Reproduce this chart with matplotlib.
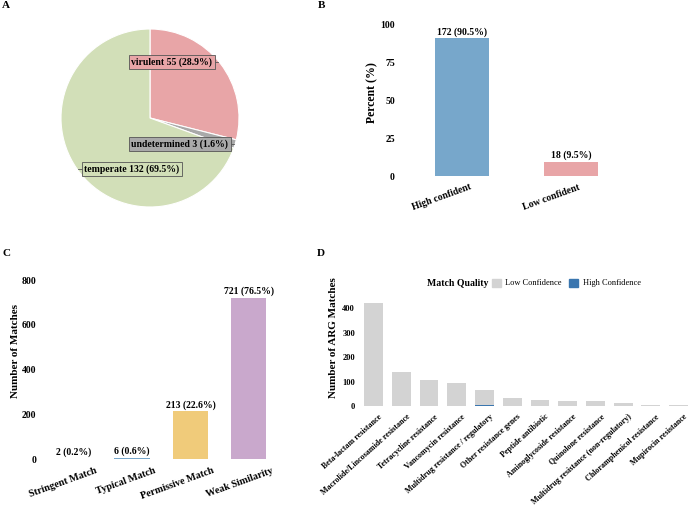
import numpy as np
import matplotlib
matplotlib.use("Agg")
import matplotlib.pyplot as plt
from matplotlib.patches import Patch
from matplotlib.transforms import ScaledTranslation

plt.rcParams['font.family'] = ['Liberation Serif', 'DejaVu Serif']
plt.rcParams['font.weight'] = 'bold'

# panel A - lifestyle
life_names = ['virulent', 'undetermined', 'temperate']
life_counts = [55, 3, 132]
life_colors = ['#E8A5A7', '#A9A9A9', '#D2DFB8']

# panel B - confidence
conf_names = ['High confident', 'Low confident']
conf_counts = [172, 18]
conf_colors = ['#77A7CB', '#E8A5A7']

# panel C - match quality
match_names = ['Stringent Match', 'Typical Match', 'Permissive Match', 'Weak Similarity']
match_counts = [2, 6, 213, 721]
match_colors = ['#E8A5A7', '#77A7CB', '#F0CB7A', '#C9A8CC']

# panel D - ARG classes
arg_names = ['Beta-lactam resistance', 'Macrolide/Lincosamide resistance',
             'Tetracycline resistance', 'Vancomycin resistance',
             'Multidrug resistance / regulatory', 'Other resistance genes',
             'Peptide antibiotic', 'Aminoglycoside resistance',
             'Quinolone resistance', 'Multidrug resistance (non-regulatory)',
             'Chloramphenicol resistance', 'Mupirocin resistance']
arg_total = [421, 140, 106, 93, 65, 31, 25, 20, 20, 14, 4, 3]
arg_high = [0, 0, 0, 2, 6, 0, 0, 0, 0, 0, 0, 0]

W, H = 691, 507
fig = plt.figure(figsize=(W / 100, H / 100), dpi=100)


def px_axes(x0, y0, x1, y1):
    # pixel box (top-left origin) -> figure axes
    return fig.add_axes([x0 / W, 1 - y1 / H, (x1 - x0) / W, (y1 - y0) / H])


def clean(ax):
    for s in ax.spines.values():
        s.set_visible(False)
    ax.tick_params(length=0, pad=1.5)


def xlabels(ax, xs, labels, rot, fs, dx, dy):
    # rotated category labels, offset in pixels from the axes bottom
    ax.set_xticks(xs)
    ax.set_xticklabels([])
    tr = ax.get_xaxis_transform() + ScaledTranslation(dx / 100, dy / 100, fig.dpi_scale_trans)
    for x, s in zip(xs, labels):
        ax.text(x, 0, s, transform=tr, rotation=rot, ha='right', va='top',
                rotation_mode='anchor', fontsize=fs, fontweight='bold', clip_on=False)


# ---------- A ----------
axA = px_axes(50, 18, 250, 218)
axA.pie(life_counts, colors=life_colors, startangle=90, counterclock=False,
        wedgeprops=dict(edgecolor='white', linewidth=0.8))
axA.set_xlim(-1.1236, 1.1236)
axA.set_ylim(-1.1236, 1.1236)
axA.set_aspect('equal')
tot = sum(life_counts)
lab_pos = [(-0.21, 0.629, 0.708, 0.764), (-0.21, -0.292, 0.89, 0.94),
           (-0.742, -0.573, -0.742, -0.81)]
for name, n, col, (tx, ty, l0, l1) in zip(life_names, life_counts, life_colors, lab_pos):
    axA.text(tx, ty, f"{name} {n} ({n / tot * 100:.1f}%)", ha='left', va='center',
             fontsize=7, fontweight='bold',
             bbox=dict(boxstyle='square,pad=0.25', facecolor=col, edgecolor='#555555', linewidth=0.6))
    axA.plot([l0, l1], [ty, ty], color='#555555', lw=0.6)

# ---------- B ----------
axB = px_axes(397, 16.4, 636, 183.6)
xb = np.arange(1, len(conf_names) + 1)
pct = [c / sum(conf_counts) * 100 for c in conf_counts]
axB.bar(xb, pct, width=0.5, color=conf_colors)
for x, p, c in zip(xb, pct, conf_counts):
    axB.text(x, p + 0.8, f"{c} ({p:.1f}%)", ha='center', va='bottom', fontsize=7, fontweight='bold')
axB.set_xlim(0.4, 2.6)
axB.set_ylim(-5, 105)
axB.set_yticks([0, 25, 50, 75, 100])
xlabels(axB, xb, conf_names, 20, 7, 7, 1)
axB.set_ylabel('Percent (%)', fontsize=8.5, fontweight='bold')
axB.yaxis.set_label_coords(-0.0795, 0.545)
clean(axB)
for t in axB.get_yticklabels():
    t.set_fontsize(7)

# ---------- C ----------
axC = px_axes(38.4, 280, 284, 468)
xc = np.arange(1, len(match_names) + 1)
axC.bar(xc, match_counts, width=0.6, color=match_colors)
mt = sum(match_counts)
for x, c in zip(xc, match_counts):
    axC.text(x, c + 6, f"{c} ({c / mt * 100:.1f}%)", ha='center', va='bottom', fontsize=7, fontweight='bold')
axC.set_xlim(0.4, 4.6)
axC.set_ylim(-40, 800)
axC.set_yticks([0, 200, 400, 600, 800])
xlabels(axC, xc, match_names, 20, 7.3, 22, 2)
axC.set_ylabel('Number of Matches', fontsize=8, fontweight='bold')
axC.yaxis.set_label_coords(-0.075, 0.622)
clean(axC)
for t in axC.get_yticklabels():
    t.set_fontsize(7)

# ---------- D ----------
axD = px_axes(357, 298.6, 691, 410.9)
xd = np.arange(1, len(arg_names) + 1)
arg_low = [t - h for t, h in zip(arg_total, arg_high)]
axD.bar(xd, arg_high, width=0.68, color='#3A76AF')
axD.bar(xd, arg_low, width=0.68, bottom=arg_high, color='#D3D3D3')
axD.set_xlim(0.4, 12.45)
axD.set_ylim(-20, 440)
axD.set_yticks([0, 100, 200, 300, 400])
xlabels(axD, xd, arg_names, 42, 5.8, 5, -2)
axD.set_ylabel('Number of ARG Matches', fontsize=8, fontweight='bold')
axD.yaxis.set_label_coords(-0.057, 0.649)
clean(axD)
for t in axD.get_yticklabels():
    t.set_fontsize(6)

fig.text(427 / W, 1 - 283 / H, 'Match Quality', fontsize=7, fontweight='bold', va='center')
handles = [Patch(color='#D3D3D3', label='Low Confidence'), Patch(color='#3A76AF', label='High Confidence')]
fig.legend(handles=handles, ncol=2, loc='center left', bbox_to_anchor=(492 / W, 1 - 283 / H),
           frameon=False, prop=dict(size=6, weight='normal'), handlelength=1.1, handleheight=1.1,
           handletextpad=0.5, columnspacing=0.9, borderpad=0, borderaxespad=0)

# panel letters
for lab, x, y in [('A', 6, 6), ('B', 321, 6), ('C', 6, 253), ('D', 321, 253)]:
    fig.text(x / W, 1 - y / H, lab, fontsize=8, fontweight='bold', va='center', ha='center')

fig.savefig('out.png', dpi=100)
